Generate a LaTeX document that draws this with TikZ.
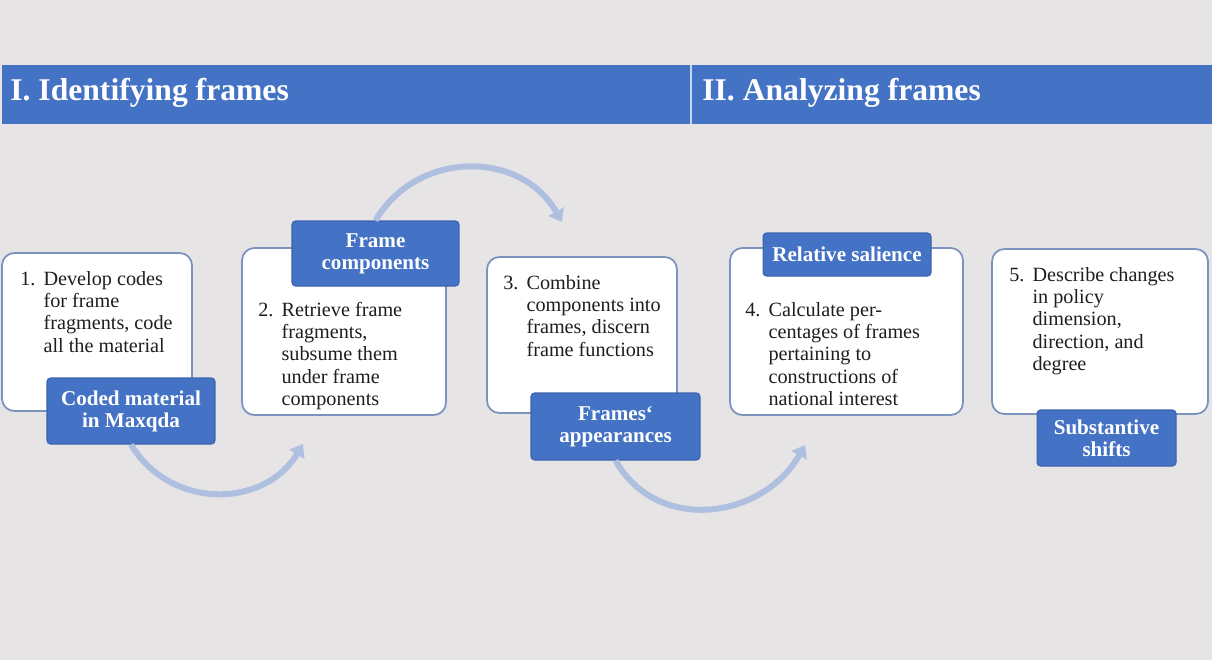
\documentclass[tikz,border=0pt]{standalone}
\usepackage{fontspec}
\setmainfont{Liberation Serif}
\usetikzlibrary{positioning,arrows.meta}

\definecolor{bgray}{HTML}{E6E4E5}
\definecolor{pblue}{HTML}{4472C4}
\definecolor{pline}{HTML}{3B64AD}
\definecolor{boxline}{HTML}{7C93BD}
\definecolor{arcblue}{HTML}{AFBFDF}
\definecolor{txt}{HTML}{1E1E1E}

\newcommand{\stepitem}[2]{\begin{tabular}[t]{@{}l@{}l@{}}\makebox[1.15em][l]{#1} & \begin{tabular}[t]{@{}l@{}}#2\end{tabular}\end{tabular}}
\renewcommand{\arraystretch}{1.03}

\begin{document}
\begin{tikzpicture}[x=0.02cm, y=-0.02cm,
  stepbox/.style={draw=boxline, line width=1pt, fill=white, rounded corners=7pt},
  tagbox/.style={draw=pline, line width=0.6pt, fill=pblue, rounded corners=2pt,
    text=white, align=center, font=\bfseries\fontsize{12}{12.6}\selectfont},
  steptext/.style={anchor=base west, inner sep=0pt, text=txt,
    font=\fontsize{11.5}{12.4}\selectfont},
  header/.style={anchor=base west, inner sep=0pt, text=white,
    font=\bfseries\fontsize{18}{20}\selectfont},
  flow/.style={draw=arcblue, line width=0.12cm,
    -{Triangle[length=0.24cm, width=0.34cm]}}]

  % --- Background and header band ---
  \fill[bgray] (0,0) rectangle (1212,660);
  \fill[pblue] (2,65) rectangle (1212,124);
  \draw[white!70!pblue, line width=1pt] (691,65) -- (691,124);
  \node[header] (h1) at (10,100) {I. Identifying frames};
  \node[header] (h2) at (702,100) {II. Analyzing frames};

  % --- Step boxes ---
  \node[stepbox, minimum width=3.8cm, minimum height=3.16cm] (b1) at (97,332) {};
  \node[stepbox, minimum width=4.08cm, minimum height=3.34cm] (b2) at (344,331.5) {};
  \node[stepbox, minimum width=3.8cm, minimum height=3.12cm] (b3) at (582,335) {};
  \node[stepbox, minimum width=4.66cm, minimum height=3.34cm] (b4) at (846.5,331.5) {};
  \node[stepbox, minimum width=4.32cm, minimum height=3.3cm] (b5) at (1100,331.5) {};

  % --- Step texts ---
  \node[steptext] (t1) at (20,285) {\stepitem{1.}{Develop codes\\for frame\\fragments, code\\all the material}};
  \node[steptext] (t2) at (258,316) {\stepitem{2.}{Retrieve frame\\fragments,\\subsume them\\under frame\\components}};
  \node[steptext] (t3) at (503,289) {\stepitem{3.}{Combine\\components into\\frames, discern\\frame functions}};
  \node[steptext] (t4) at (745,316) {\stepitem{4.}{Calculate per-\\centages of frames\\pertaining to\\constructions of\\national interest}};
  \node[steptext] (t5) at (1009,281) {\stepitem{5.}{Describe changes\\in policy\\dimension,\\direction, and\\degree}};

  % --- Result tags ---
  \node[tagbox, minimum width=3.36cm, minimum height=1.32cm] (l1) at (131,411) {Coded material\\in Maxqda};
  \node[tagbox, minimum width=3.34cm, minimum height=1.3cm] (l2) at (375.5,253.5) {Frame\\components};
  \node[tagbox, minimum width=3.38cm, minimum height=1.34cm] (l3) at (615.5,426.5) {Frames‘\\appearances};
  \node[tagbox, minimum width=3.36cm, minimum height=0.86cm] (l4) at (847,254.5) {Relative salience};
  \node[tagbox, minimum width=2.78cm, minimum height=1.12cm] (l5) at (1106.5,438) {Substantive\\shifts};

  % --- Flow arrows between steps ---
  \coordinate (e1) at (303,444);
  \coordinate (e2) at (562,222);
  \coordinate (e3) at (805,445);
  \draw[flow] (l1.south) .. controls +(39,65) and +(-39,65) .. (e1);
  \draw[flow] (l2.north) .. controls +(42,-71) and +(-41,-72) .. (e2);
  \draw[flow] (l3.south) .. controls +(42,74) and +(-42,74) .. (e3);
\end{tikzpicture}
\end{document}
